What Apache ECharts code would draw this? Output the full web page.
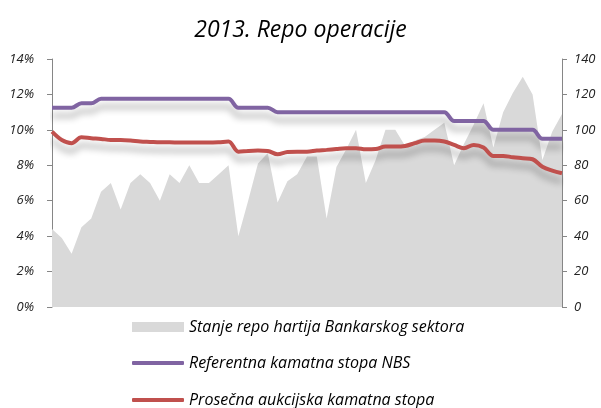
<!DOCTYPE html>
<html>
<head>
<meta charset="utf-8">
<script src="https://cdn.jsdelivr.net/npm/echarts@6/dist/echarts.min.js"></script>
<style>
  html, body { margin: 0; padding: 0; background: #fff; }
  #chart { width: 601px; height: 408px; }
</style>
</head>
<body>
<div id="chart"></div>
<script>
'use strict';

// weekly points through 2013
const weeks = Array.from({ length: 53 }, (_, i) => 'W' + (i + 1));

// stock of repo securities (right axis)
const repoStock = [
  44, 39, 30, 45, 50, 65, 70, 55, 70, 75, 70, 60, 75, 70, 80, 70, 70, 75, 80,
  40, 60, 81, 87, 59, 71, 75, 85, 85, 50, 79, 89, 100, 70, 83, 100, 100, 91,
  94, 96, 100, 104, 80, 92, 103, 115, 90, 110, 121, 130, 120, 83, 99, 109
];

// NBS key policy rate, %
const refRate = [
  11.25, 11.25, 11.25, 11.5, 11.5, 11.75, 11.75, 11.75, 11.75, 11.75, 11.75,
  11.75, 11.75, 11.75, 11.75, 11.75, 11.75, 11.75, 11.75, 11.25, 11.25, 11.25,
  11.25, 11.0, 11.0, 11.0, 11.0, 11.0, 11.0, 11.0, 11.0, 11.0, 11.0, 11.0,
  11.0, 11.0, 11.0, 11.0, 11.0, 11.0, 11.0, 10.5, 10.5, 10.5, 10.5, 10.0,
  10.0, 10.0, 10.0, 10.0, 9.5, 9.5, 9.5
];

// average auction rate, %
const auctionRate = [
  9.9, 9.43, 9.25, 9.58, 9.53, 9.49, 9.43, 9.43, 9.4, 9.34, 9.32, 9.3, 9.3,
  9.28, 9.28, 9.28, 9.28, 9.3, 9.34, 8.77, 8.81, 8.83, 8.81, 8.62, 8.75, 8.77,
  8.77, 8.83, 8.87, 8.92, 8.96, 8.96, 8.9, 8.92, 9.06, 9.06, 9.09, 9.25, 9.4,
  9.4, 9.34, 9.15, 8.96, 9.15, 9.0, 8.53, 8.53, 8.45, 8.4, 8.34, 7.92, 7.7, 7.55
];

const leftTicks = { min: 0, max: 14, interval: 2 };
const rightTicks = { min: 0, max: 140, interval: 20 };

const names = [
  'Stanje repo hartija Bankarskog sektora',
  'Referentna kamatna stopa NBS',
  'Prosečna aukcijska kamatna stopa'
];

const font = 'Open Sans';
const axisColor = '#868686';

const lineShadow = {
  shadowColor: 'rgba(0, 0, 0, 0.3)',
  shadowBlur: 7,
  shadowOffsetY: 8
};

const $chart = echarts.init(document.getElementById('chart'));

const yAxisCommon = {
  type: 'value',
  splitLine: { show: false },
  axisLine: { show: true, lineStyle: { color: axisColor, width: 1 } },
  axisTick: { show: true, length: 5, lineStyle: { color: axisColor } },
  axisLabel: {
    fontFamily: font,
    fontStyle: 'italic',
    fontSize: 13,
    color: '#222'
  }
};

// one legend block per row, so nothing wraps into columns
const legendRow = (name, top, icon, height) => ({
  left: 127,
  top: top,
  itemWidth: 52,
  itemHeight: height,
  icon: icon,
  textStyle: {
    fontFamily: font,
    fontStyle: 'italic',
    fontSize: 16,
    color: '#000'
  },
  data: [name]
});

const option = {
  animation: false,
  title: {
    text: '2013. Repo operacije',
    left: 'center',
    top: 14,
    textStyle: {
      fontFamily: font,
      fontStyle: 'italic',
      fontWeight: 'normal',
      fontSize: 23,
      color: '#000'
    }
  },
  legend: [
    legendRow(names[0], 314, 'rect', 10),
    legendRow(names[1], 350, 'roundRect', 4),
    legendRow(names[2], 387, 'roundRect', 4)
  ],
  grid: {
    left: 52,
    right: 39,
    top: 59,
    bottom: 101
  },
  xAxis: {
    type: 'category',
    boundaryGap: false,
    data: weeks,
    show: false
  },
  yAxis: [
    Object.assign({}, yAxisCommon, leftTicks, {
      position: 'left',
      axisLabel: Object.assign({}, yAxisCommon.axisLabel, { formatter: '{value}%', margin: 18 })
    }),
    Object.assign({}, yAxisCommon, rightTicks, {
      position: 'right',
      axisLabel: Object.assign({}, yAxisCommon.axisLabel, { margin: 12 })
    })
  ],
  series: [
    {
      name: names[0],
      type: 'line',
      yAxisIndex: 1,
      data: repoStock,
      symbol: 'none',
      lineStyle: { width: 0 },
      itemStyle: { color: '#d9d9d9' },
      areaStyle: { color: '#d9d9d9', opacity: 1 },
      z: 1
    },
    {
      name: names[1],
      type: 'line',
      yAxisIndex: 0,
      data: refRate,
      smooth: 0.35,
      symbol: 'none',
      itemStyle: { color: '#8064a2' },
      lineStyle: Object.assign({ color: '#8064a2', width: 4 }, lineShadow),
      z: 3
    },
    {
      name: names[2],
      type: 'line',
      yAxisIndex: 0,
      data: auctionRate,
      smooth: 0.35,
      symbol: 'none',
      itemStyle: { color: '#c0504d' },
      lineStyle: Object.assign({ color: '#c0504d', width: 4 }, lineShadow),
      z: 3
    }
  ]
};

$chart.setOption(option);

window.addEventListener('resize', () => {
  $chart.resize();
});
</script>
</body>
</html>
